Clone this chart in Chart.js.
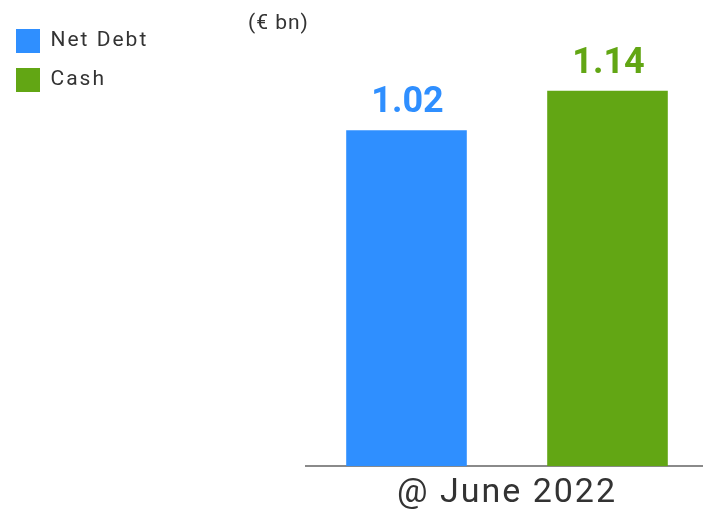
<!DOCTYPE html>
<html>
<head>
<meta charset="utf-8">
<script src="https://cdn.jsdelivr.net/npm/chart.js@4"></script>
<style>
  body { margin: 0; background: #fff; overflow: hidden; }
  canvas { display: block; }
</style>
</head>
<body>
<!-- a few px wider than the window so the axis runs off the right edge like the original -->
<canvas id="debtChart" width="708" height="510"></canvas>
<script>
// --- data ---
const categories = ['@ June 2022'];
const seriesNames = ['Net Debt', 'Cash'];
const netDebt = [1.02];
const cash = [1.14];
const unitLabel = '(€ bn)';

const BLUE = '#2f8fff';
const GREEN = '#62a614';
const TEXT = '#333333';
const FONT = 'Roboto, "Liberation Sans", sans-serif';

// the reference type runs a little wider than Roboto
const tracking = {
    id: 'tracking',
    beforeUpdate(chart) { chart.ctx.letterSpacing = '2px'; },
    beforeDraw(chart) { chart.ctx.letterSpacing = '2px'; },
    afterDraw(chart) { chart.ctx.letterSpacing = '0px'; }
};

// value labels above each bar, in the bar colour
const valueLabels = {
    id: 'valueLabels',
    afterDatasetsDraw(chart) {
        const ctx = chart.ctx;
        ctx.save();
        ctx.letterSpacing = '0px';
        ctx.font = 'bold 36px ' + FONT;
        ctx.textAlign = 'center';
        ctx.textBaseline = 'alphabetic';
        chart.data.datasets.forEach((ds, i) => {
            chart.getDatasetMeta(i).data.forEach((bar, j) => {
                ctx.fillStyle = ds.backgroundColor;
                ctx.fillText(ds.data[j].toFixed(2), bar.x + 1, bar.y - 18);
            });
        });
        ctx.restore();
    }
};

// unit note near the top
const unitNote = {
    id: 'unitNote',
    afterDraw(chart) {
        const ctx = chart.ctx;
        ctx.save();
        ctx.letterSpacing = '1px';
        ctx.font = '21px ' + FONT;
        ctx.fillStyle = TEXT;
        ctx.textAlign = 'left';
        ctx.textBaseline = 'alphabetic';
        ctx.fillText(unitLabel, 248, 29);
        ctx.restore();
    }
};

new Chart(document.getElementById('debtChart'), {
    type: 'bar',
    data: {
        labels: categories,
        datasets: [
            { label: seriesNames[0], data: netDebt, backgroundColor: BLUE },
            { label: seriesNames[1], data: cash, backgroundColor: GREEN }
        ]
    },
    options: {
        responsive: false,
        animation: false,
        layout: { padding: { top: 14, left: 1, right: 0, bottom: -11 } },
        categoryPercentage: 1.0,
        barPercentage: 0.6,
        plugins: {
            legend: {
                position: 'left',
                align: 'start',
                labels: {
                    boxWidth: 24,
                    boxHeight: 24,
                    padding: 15,
                    color: TEXT,
                    font: { family: FONT, size: 21 }
                }
            },
            tooltip: { enabled: false }
        },
        scales: {
            x: {
                grid: { display: false, drawTicks: false },
                border: { display: true, color: '#8a8a8a', width: 2 },
                ticks: { color: TEXT, padding: 7, font: { family: FONT, size: 34, lineHeight: 1.2 } }
            },
            y: {
                min: 0,
                max: 1.373,
                grid: { display: false, drawTicks: false },
                border: { display: false },
                ticks: { display: false },
                afterFit(s) {
                    const lw = s.chart.legend ? s.chart.legend.width : 160;
                    s.width = 305 - lw;
                }
            }
        }
    },
    plugins: [tracking, valueLabels, unitNote]
});
</script>
</body>
</html>
